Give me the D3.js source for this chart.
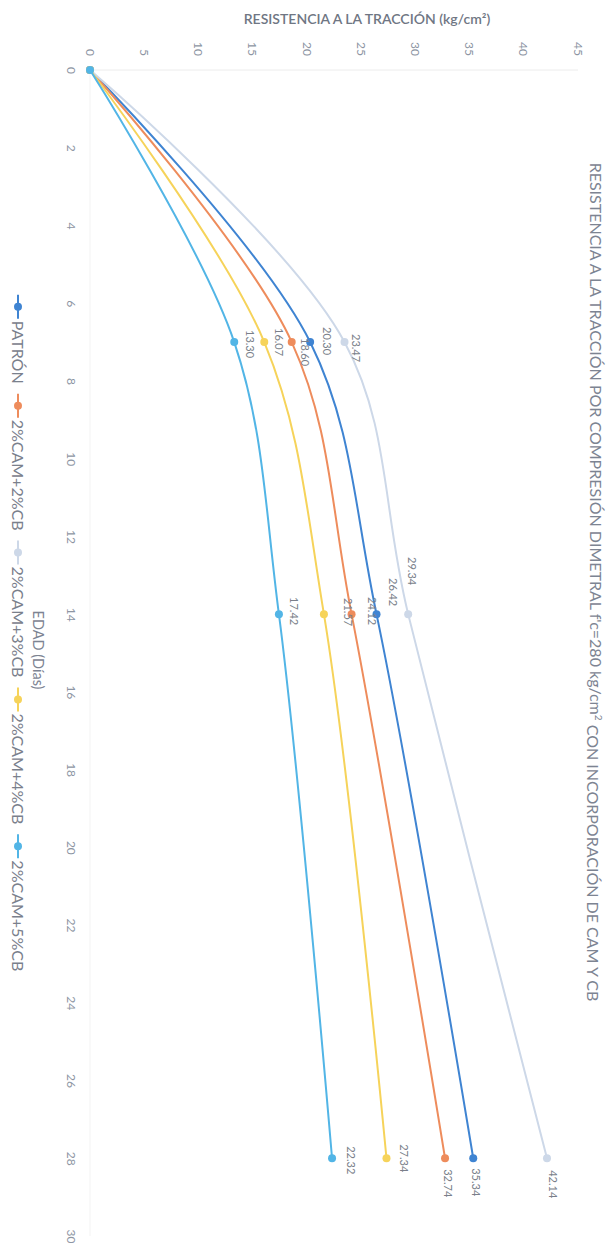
<!DOCTYPE html>
<html>
<head>
<meta charset="utf-8">
<script src="https://cdnjs.cloudflare.com/ajax/libs/d3/7.8.5/d3.min.js"></script>
<style>
  html, body { margin: 0; padding: 0; background: #ffffff; }
  svg { display: block; }
  text { font-family: Lato, "Open Sans", "Liberation Sans", sans-serif; }
</style>
</head>
<body>
<svg id="chart" width="613" height="1254"></svg>
<script>
// ---------- DATA ----------
const days = [0, 7, 14, 28];
const seriesNames = ["PATRÓN", "2%CAM+2%CB", "2%CAM+3%CB", "2%CAM+4%CB", "2%CAM+5%CB"];
const patron   = [0, 20.30, 26.42, 35.34];
const cam2cb2  = [0, 18.60, 24.12, 32.74];
const cam2cb3  = [0, 23.47, 29.34, 42.14];
const cam2cb4  = [0, 16.07, 21.57, 27.34];
const cam2cb5  = [0, 13.30, 17.42, 22.32];
const dayTickLabels = [0, 2, 4, 6, 8, 10, 12, 14, 16, 18, 20, 22, 24, 26, 28, 30];
const valueTickLabels = [0, 5, 10, 15, 20, 25, 30, 35, 40, 45];

const titleText = "RESISTENCIA A LA TRACCIÓN POR COMPRESIÓN DIMETRAL f'c=280 kg/cm";
const titleSup = "2";
const titleTail = " CON INCORPORACIÓN DE CAM Y CB";
const yTitle = "RESISTENCIA A LA TRACCIÓN (kg/cm²)";
const xTitle = "EDAD (Días)";

// ---------- STYLE ----------
const colors = ["#3f84d2", "#ee8c5c", "#cdd8e8", "#f6d35a", "#52b5e6"];
// label offsets (page px, relative to point): [across, along]
const labelShift = [
  [[0,0],[17,-1],[16,-22],[3,24]],
  [[0,0],[13,10],[20,-3],[3,25]],
  [[0,0],[11,6],[4,-43],[6,26]],
  [[0,0],[15,0],[24,-2],[17,0]],
  [[0,0],[16,2],[15,-3],[19,2]]
];

const W = 1254, H = 613; // chart drawn unrotated, then rotated 90deg
const svg = d3.select("#chart");
const g = svg.append("g").attr("transform", `translate(${H},0) rotate(90)`);

const x = d3.scaleLinear().domain([0, 30]).range([70, 1236]);
const y = d3.scaleLinear().domain([0, 45]).range([523, 35]);

const seriesVals = [patron, cam2cb2, cam2cb3, cam2cb4, cam2cb5];
const series = seriesNames.map((n, i) => ({
  name: n, color: colors[i],
  pts: days.map((d, j) => ({ d, v: seriesVals[i][j], shift: labelShift[i][j] }))
}));

// faint axis lines
g.append("line").attr("x1", x(0)).attr("x2", x(0)).attr("y1", y(0)).attr("y2", y(45))
  .attr("stroke", "#ececec").attr("stroke-width", 1);
g.append("line").attr("x1", x(0)).attr("x2", x(30)).attr("y1", y(0)).attr("y2", y(0))
  .attr("stroke", "#f3f3f3").attr("stroke-width", 1);

// x axis (days)
const xAxis = g.append("g").attr("transform", `translate(0,${y(0)})`)
  .call(d3.axisBottom(x).tickValues(dayTickLabels).tickSize(0).tickPadding(14));
xAxis.select(".domain").remove();
xAxis.selectAll("text").attr("fill", "#8d95a3").style("font-size", "12px");

// y axis (values)
const yAxis = g.append("g").attr("transform", `translate(${x(0)},0)`)
  .call(d3.axisLeft(y).tickValues(valueTickLabels).tickSize(0).tickPadding(14));
yAxis.select(".domain").remove();
yAxis.selectAll("text").attr("fill", "#8d95a3").style("font-size", "12px");

// lines
const line = d3.line().x(p => x(p.d)).y(p => y(p.v)).curve(d3.curveCatmullRom.alpha(0.5));
const sg = g.selectAll(".series").data(series).enter().append("g");
sg.append("path").attr("d", s => line(s.pts)).attr("fill", "none")
  .attr("stroke", s => s.color).attr("stroke-width", 2);
sg.selectAll("circle").data(s => s.pts.map(p => ({ ...p, color: s.color }))).enter()
  .append("circle").attr("cx", p => x(p.d)).attr("cy", p => y(p.v)).attr("r", 4)
  .attr("fill", p => p.color);
// data labels (not on origin)
sg.selectAll(".lbl").data(s => s.pts.filter(p => p.d > 0)).enter()
  .append("text")
  .attr("x", p => x(p.d) + p.shift[1])
  .attr("y", p => y(p.v) - p.shift[0])
  .attr("dy", "0.35em")
  .attr("text-anchor", "middle")
  .attr("fill", "#7a7f8a").style("font-size", "11px")
  .text(p => p.v.toFixed(2));

// title (right side in page = top of unrotated chart)
const t = g.append("text").attr("x", 582).attr("y", 17).attr("dy", "0.35em")
  .attr("text-anchor", "middle").attr("fill", "#7d8492").style("font-size", "16px");
t.append("tspan").text(titleText);
t.append("tspan").attr("dy", "-0.5em").style("font-size", "10px").text(titleSup);
t.append("tspan").attr("dy", "0.5em").text(titleTail);

// y axis title (horizontal on page)
g.append("text").attr("transform", `translate(19,${H - 367}) rotate(-90)`)
  .attr("text-anchor", "middle").attr("dy", "0.35em")
  .attr("fill", "#6f7683").style("font-size", "14px").style("font-weight", "600").text(yTitle);

// x axis title
g.append("text").attr("x", 650).attr("y", H - 38).attr("dy", "0.35em")
  .attr("text-anchor", "middle").attr("fill", "#7d8492").style("font-size", "14.5px").text(xTitle);

// legend
const leg = g.append("g");
let cx = 0;
series.forEach(s => {
  const it = leg.append("g");
  it.append("line").attr("x1", 0).attr("x2", 24).attr("stroke", s.color).attr("stroke-width", 2);
  it.append("circle").attr("cx", 12).attr("r", 4).attr("fill", s.color);
  const tx = it.append("text").attr("x", 26).attr("dy", "0.35em")
    .attr("fill", "#7a808c").style("font-size", "16px").text(s.name);
  const w = 26 + tx.node().getComputedTextLength();
  it.attr("transform", `translate(${cx},0)`);
  cx += w + 10;
});
const totalW = cx - 10;
leg.attr("transform", `translate(${633 - totalW / 2},${H - 18})`);
</script>
</body>
</html>
